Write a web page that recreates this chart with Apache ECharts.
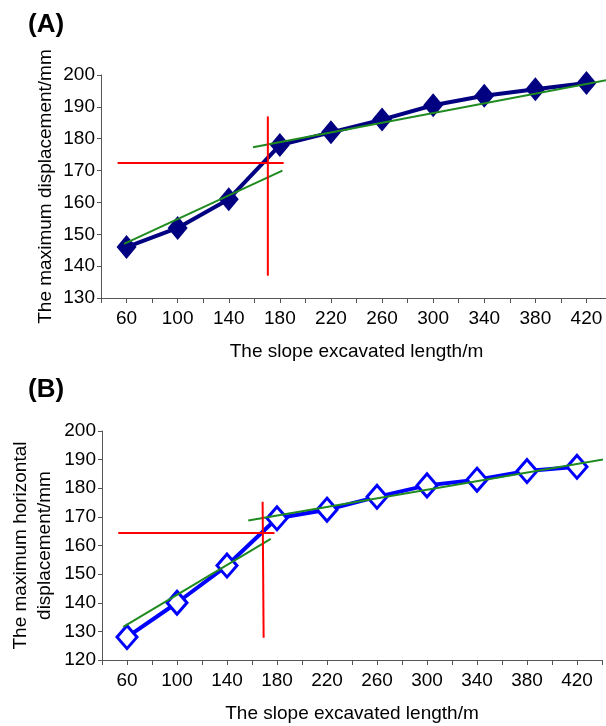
<!DOCTYPE html>
<html>
<head>
<meta charset="utf-8">
<script src="https://cdn.jsdelivr.net/npm/echarts@6/dist/echarts.min.js"></script>
<style>html,body{margin:0;padding:0;background:#fff}#c{width:606px;height:726px}</style>
</head>
<body>
<div id="c"></div>
<script>
const xCategories = [60, 100, 140, 180, 220, 260, 300, 340, 380, 420];
const maxDisplacementA = [146, 152, 161, 178, 182, 186, 190.5, 193.5, 195.5, 197.5];
const maxHorizontalB = [128, 140, 153, 169.5, 172.5, 177, 181, 183, 186, 187.5];
const fitA1 = [[58, 147], [182, 170]];
const fitA2 = [[159, 177.3], [436, 198.4]];
const redA_H = [[53, 172.4], [183, 172.4]];
const redA_V = [[170.6, 187], [170.6, 137]];
const fitB1 = [[57, 131.6], [175, 162.3]];
const fitB2 = [[157, 168.7], [443, 190.2]];
const redB_H = [[53, 164.4], [178, 164.4]];
const redB_V = [[168.5, 175.3], [169.3, 127.8]];
const yTicksA = {min: 130, max: 200, interval: 10};
const yTicksB = {min: 120, max: 200, interval: 10};

const FONT = "'Liberation Sans', Arial, sans-serif";
const axisColor = '#555';
function xAxis(gridIndex) {
  return {
    type: 'value', gridIndex, min: 40, max: 440, interval: 20,
    name: 'The slope excavated length/m', nameLocation: 'middle', nameGap: 44,
    nameMoveOverlap: false,
    nameTextStyle: {fontSize: 19, color: '#000', fontFamily: FONT},
    axisLine: {show: true, lineStyle: {color: axisColor, width: 1}},
    axisTick: {show: true, length: 5, lineStyle: {color: axisColor}},
    splitLine: {show: false},
    axisLabel: {fontSize: 19, color: '#000', fontFamily: FONT, margin: 11,
      formatter: v => ((v - 60) % 40 === 0 && v >= 60 && v <= 420) ? String(v) : ''}
  };
}
function yAxis(gridIndex, t, name, gap) {
  return {
    type: 'value', gridIndex, min: t.min, max: t.max, interval: t.interval,
    name, nameLocation: 'middle', nameGap: gap, nameRotate: 90,
    nameMoveOverlap: false,
    nameTextStyle: {fontSize: 19, color: '#000', fontFamily: FONT, lineHeight: 24},
    axisLine: {show: true, lineStyle: {color: axisColor, width: 1}},
    axisTick: {show: true, length: 4, lineStyle: {color: axisColor}},
    splitLine: {show: false},
    axisLabel: {fontSize: 19, color: '#000', fontFamily: FONT, margin: 6}
  };
}
function seg(data, color, xi, width) {
  return {type: 'line', xAxisIndex: xi, yAxisIndex: xi, data, symbol: 'none',
    lineStyle: {color, width: width || 2}, clip: false, silent: true, z: 3, animation: false};
}
const chart = echarts.init(document.getElementById('c'), null, {renderer: 'canvas'});
chart.setOption({
  animation: false,
  backgroundColor: '#fff',
  title: [
    {text: '(A)', left: 23, top: 7, textStyle: {fontSize: 26, fontWeight: 'bold', color: '#000', fontFamily: FONT}},
    {text: '(B)', left: 23, top: 372, textStyle: {fontSize: 26, fontWeight: 'bold', color: '#000', fontFamily: FONT}}
  ],
  grid: [
    {left: 101, top: 75, right: -6, height: 223, containLabel: false, outerBoundsMode: 'none'},
    {left: 102, top: 431, right: 4, height: 229, containLabel: false, outerBoundsMode: 'none'}
  ],
  xAxis: [xAxis(0), xAxis(1)],
  yAxis: [
    yAxis(0, yTicksA, 'The maximum displacement/mm', 43),
    yAxis(1, yTicksB, 'The maximum horizontal\ndisplacement/mm', 45)
  ],
  series: [
    {type: 'line', xAxisIndex: 0, yAxisIndex: 0,
      data: xCategories.map((x, i) => [x, maxDisplacementA[i]]),
      symbol: 'diamond', symbolSize: [20, 24],
      lineStyle: {color: '#000080', width: 4}, itemStyle: {color: '#000080'}, z: 2},
    {type: 'line', xAxisIndex: 1, yAxisIndex: 1,
      data: xCategories.map((x, i) => [x, maxHorizontalB[i]]),
      symbol: 'diamond', symbolSize: [20, 23],
      lineStyle: {color: '#0000ff', width: 4},
      itemStyle: {color: '#fff', borderColor: '#0000ff', borderWidth: 3}, z: 2},
    seg(fitA1, '#1f8a1f', 0), seg(fitA2, '#1f8a1f', 0),
    seg(redA_H, '#ff0000', 0), seg(redA_V, '#ff0000', 0),
    seg(fitB1, '#1f8a1f', 1), seg(fitB2, '#1f8a1f', 1),
    seg(redB_H, '#ff0000', 1), seg(redB_V, '#ff0000', 1)
  ]
});
</script>
</body>
</html>
